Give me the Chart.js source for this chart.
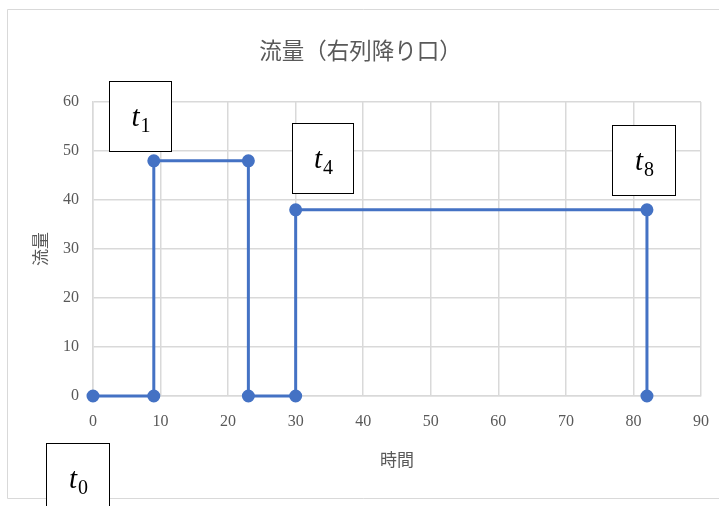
<!DOCTYPE html>
<html>
<head>
<meta charset="utf-8">
<title>流量（右列降り口）</title>
<script src="https://cdn.jsdelivr.net/npm/chart.js@4/dist/chart.umd.min.js"></script>
<style>
  html, body { margin: 0; padding: 0; background: #ffffff; }
  #wrap { position: relative; width: 719px; height: 506px; }
</style>
</head>
<body>
<div id="wrap"><canvas id="chart" width="719" height="506"></canvas></div>
<script>
// 時間（x）と流量（y）の折れ線データ
const timeValues = [0, 9, 9, 23, 23, 30, 30, 82, 82];
const flowValues = [0, 0, 48, 48, 0, 0, 38, 38, 0];

// 軸の範囲と目盛り
const xRange = [0, 90];
const yRange = [0, 60];
const tickStep = 10;

// 時刻ラベル（t の添字）と対応する点の番号
const eventSubscripts = ['0', '1', '4', '8'];
const eventPointIndex = [0, 2, 6, 7];

// ラベル枠の位置（点からのずれ）と大きさ
const eventBoxes = [
  { dx: -47, dy: 46.5, w: 63, h: 66 },
  { dx: -45, dy: -80, w: 62, h: 70 },
  { dx: -3.5, dy: -87, w: 61, h: 70 },
  { dx: -35, dy: -85, w: 63, h: 70 }
];

const points = timeValues.map((t, i) => ({ x: t, y: flowValues[i] }));

const frameColor = '#d9d9d9';
const gridColor = '#d9d9d9';
const textColor = '#595959';
const lineColor = '#4472C4';

// 外枠（グラフエリアの罫線）
const framePlugin = {
  id: 'frame',
  beforeDraw(chart) {
    const ctx = chart.ctx;
    ctx.save();
    ctx.fillStyle = '#ffffff';
    ctx.fillRect(0, 0, chart.width, chart.height);
    ctx.strokeStyle = frameColor;
    ctx.lineWidth = 1;
    ctx.beginPath();
    ctx.moveTo(chart.width + 1, 9.5);
    ctx.lineTo(7.5, 9.5);
    ctx.lineTo(7.5, 498.5);
    ctx.lineTo(chart.width + 1, 498.5);
    ctx.stroke();
    ctx.restore();
  }
};

// t_n のラベル枠
const eventLabelPlugin = {
  id: 'eventLabels',
  afterDraw(chart) {
    const ctx = chart.ctx;
    const xs = chart.scales.x;
    const ys = chart.scales.y;
    ctx.save();
    eventSubscripts.forEach((sub, k) => {
      const p = points[eventPointIndex[k]];
      const b = eventBoxes[k];
      const left = Math.round(xs.getPixelForValue(p.x) + b.dx);
      const top = Math.round(ys.getPixelForValue(p.y) + b.dy);
      ctx.fillStyle = '#ffffff';
      ctx.fillRect(left, top, b.w, b.h);
      ctx.strokeStyle = '#000000';
      ctx.lineWidth = 1;
      ctx.strokeRect(left + 0.5, top + 0.5, b.w, b.h);

      const mainFont = 'italic 29px "Liberation Serif", "DejaVu Serif", serif';
      const subFont = '20px "Liberation Serif", "DejaVu Serif", serif';
      ctx.font = mainFont;
      const tw = ctx.measureText('t').width;
      ctx.font = subFont;
      const sw = ctx.measureText(sub).width;
      const startX = left + b.w / 2 - (tw + sw + 1) / 2 + 1;
      const baseY = top + 45;
      ctx.fillStyle = '#000000';
      ctx.textBaseline = 'alphabetic';
      ctx.textAlign = 'left';
      ctx.font = mainFont;
      ctx.fillText('t', startX, baseY);
      ctx.font = subFont;
      ctx.fillText(sub, startX + tw + 1, baseY + 6);
    });
    ctx.restore();
  }
};

new Chart(document.getElementById('chart'), {
  type: 'scatter',
  data: {
    datasets: [{
      data: points,
      showLine: true,
      clip: false,
      borderColor: lineColor,
      backgroundColor: lineColor,
      borderWidth: 3,
      pointRadius: 5,
      pointHoverRadius: 5,
      pointBackgroundColor: lineColor,
      pointBorderColor: lineColor,
      tension: 0
    }]
  },
  options: {
    responsive: false,
    animation: false,
    devicePixelRatio: 1,
    layout: { padding: { left: 20, right: 18, top: 0, bottom: 30 } },
    plugins: {
      legend: { display: false },
      tooltip: { enabled: false },
      title: {
        display: true,
        text: '流量（右列降り口）',
        color: textColor,
        font: { family: '"Noto Sans CJK JP", "Noto Sans", sans-serif', size: 22.5, weight: 'normal', lineHeight: 1.2 },
        padding: { top: 37, bottom: 38 }
      }
    },
    scales: {
      x: {
        type: 'linear',
        min: xRange[0],
        max: xRange[1],
        ticks: {
          stepSize: tickStep,
          color: textColor,
          padding: 16,
          font: { family: '"Liberation Serif", serif', size: 16 }
        },
        grid: { color: gridColor, lineWidth: 1.5, drawTicks: false },
        border: { color: gridColor, width: 1.5 },
        title: {
          display: true,
          text: '時間',
          color: textColor,
          font: { family: '"Noto Sans CJK JP", sans-serif', size: 17, lineHeight: 1.2 },
          padding: { top: 0, bottom: 6 }
        },
        afterFit(scale) {
          scale.height = 80;
          // 端の目盛りラベルは半幅だけ余白を取る
          scale.paddingLeft = 8;
          scale.paddingRight = 8;
        }
      },
      y: {
        type: 'linear',
        min: yRange[0],
        max: yRange[1],
        ticks: {
          stepSize: tickStep,
          color: textColor,
          padding: 14,
          font: { family: '"Liberation Serif", serif', size: 16 }
        },
        grid: { color: gridColor, lineWidth: 1.5, drawTicks: false },
        border: { color: gridColor, width: 1.5 },
        title: {
          display: true,
          text: '流量',
          color: textColor,
          font: { family: '"Noto Sans CJK JP", sans-serif', size: 17, lineHeight: 1.2 },
          padding: { top: 10, bottom: 0 }
        },
        afterFit(scale) { scale.width = 73; }
      }
    }
  },
  plugins: [framePlugin, eventLabelPlugin]
});
</script>
</body>
</html>
